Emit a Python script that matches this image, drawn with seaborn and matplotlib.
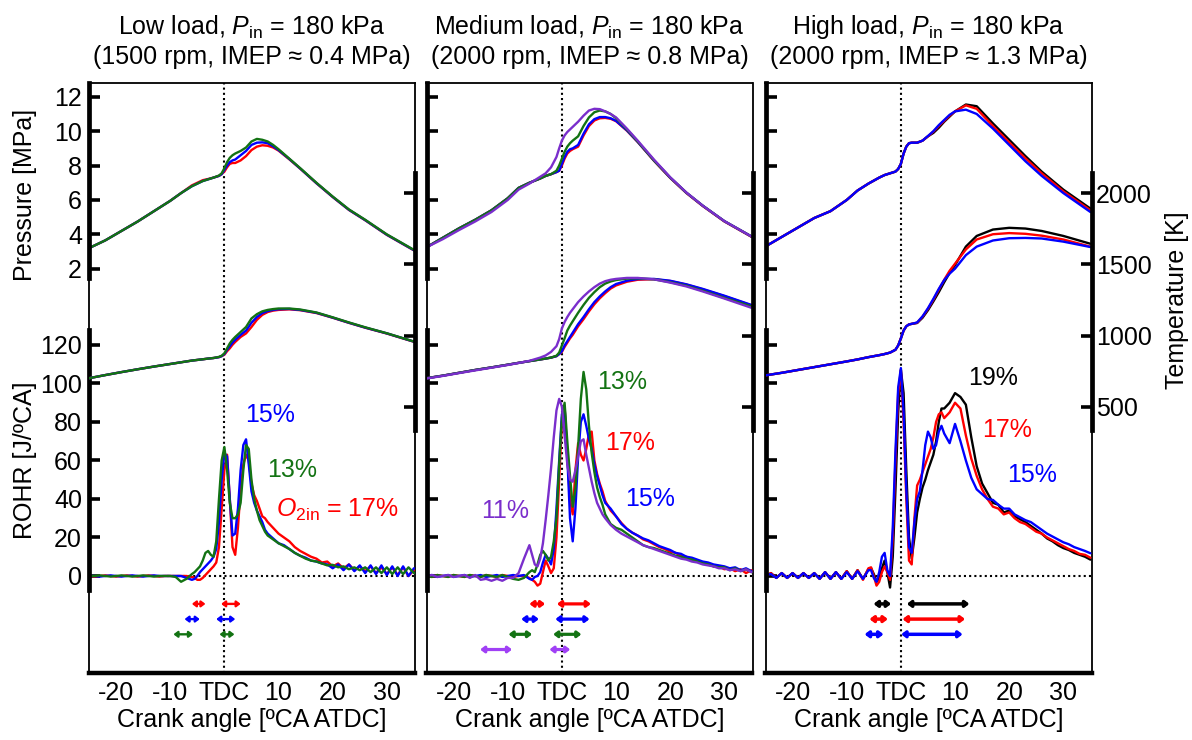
import matplotlib
matplotlib.use('Agg')
import matplotlib.pyplot as plt
import seaborn as sns

sns.set_style('white')
plt.rcParams['font.family'] = ['Liberation Sans', 'DejaVu Sans']
plt.rcParams['mathtext.fontset'] = 'custom'
plt.rcParams['mathtext.rm'] = 'Liberation Sans'
plt.rcParams['mathtext.it'] = 'Liberation Sans:italic'
plt.rcParams['mathtext.bf'] = 'Liberation Sans:bold'
for key in ['text.color', 'axes.labelcolor', 'xtick.color', 'ytick.color', 'axes.edgecolor']:
    plt.rcParams[key] = 'black'

FS = 18

# ---------------- x grids ----------------
ca_pt = [-25, -22, -19, -16, -13, -10, -8, -6, -4, -3, -2, -1, -0.5,
         0, 0.5, 1, 1.5, 2, 3, 4, 5, 6, 7, 8, 9, 10, 12, 14, 17, 20, 23, 26, 30, 35]
ca_rohr = list(range(-25, -5)) + [k * 0.5 for k in range(-11, 17)] + list(range(9, 36))

xtick_vals = [-20, -10, 0, 10, 20, 30]
xtick_labels = ['-20', '-10', 'TDC', '10', '20', '30']
p_ticks = [2, 4, 6, 8, 10, 12]
r_ticks = [0, 20, 40, 60, 80, 100, 120]
t_ticks = [500, 1000, 1500, 2000]

# ---------------- Panel 1: low load ----------------
p1_P_red = [3.2, 3.65, 4.2, 4.75, 5.35, 5.95, 6.4, 6.85, 7.15, 7.22, 7.3, 7.4, 7.5,
            7.65, 7.9, 8.1, 8.15, 8.15, 8.3, 8.55, 8.9, 9.1, 9.18, 9.15, 9.05, 8.87, 8.36, 7.82, 6.97, 6.17, 5.42, 4.82, 3.97, 3.07]
p1_P_blue = [3.2, 3.65, 4.2, 4.75, 5.35, 5.95, 6.4, 6.8, 7.1, 7.2, 7.3, 7.4, 7.5,
             7.75, 8.0, 8.2, 8.3, 8.35, 8.6, 8.85, 9.2, 9.33, 9.35, 9.3, 9.12, 8.9, 8.38, 7.83, 6.98, 6.18, 5.43, 4.83, 3.98, 3.08]
p1_P_green = [3.2, 3.65, 4.2, 4.75, 5.35, 5.95, 6.4, 6.8, 7.1, 7.2, 7.3, 7.42, 7.55,
              7.85, 8.2, 8.45, 8.6, 8.7, 8.85, 9.05, 9.4, 9.55, 9.5, 9.4, 9.2, 8.95, 8.4, 7.85, 7.0, 6.2, 5.45, 4.85, 4.0, 3.1]
p1_T_red = [700, 722, 743, 763, 782, 800, 812, 824, 833, 838, 842, 848, 855,
            865, 890, 910, 935, 955, 990, 1015, 1060, 1110, 1145, 1165, 1175, 1180, 1184, 1178, 1158, 1125, 1089, 1055, 1014, 956]
p1_T_blue = [700, 722, 743, 763, 782, 800, 812, 824, 833, 838, 842, 848, 855,
             870, 900, 925, 950, 970, 1005, 1035, 1090, 1130, 1158, 1172, 1180, 1185, 1187, 1180, 1160, 1126, 1090, 1056, 1015, 957]
p1_T_green = [700, 722, 743, 763, 782, 800, 812, 824, 833, 838, 842, 850, 858,
              875, 910, 945, 970, 990, 1025, 1060, 1120, 1150, 1170, 1180, 1186, 1190, 1190, 1183, 1162, 1128, 1092, 1058, 1016, 958]
p1_R_red = ([0, -0.3, 0, 0.3, 0, -0.3, 0, 0.3, 0, -0.3, 0, 0.3, 0, -0.3, 0, 0, 0, 0, 0, -0.5]
            + [-1, -2, -2, -1, 0.5, 2, 3.5, 5, 7, 15, 35, 55, 63, 40, 15, 11, 25, 45, 58, 63, 60, 48, 42, 39, 35, 31, 30, 28]
            + [25, 22, 20, 18, 15, 13, 11.5, 10, 9, 7, 7.5, 5, 6.5, 4, 6, 3, 5, 2.5, 5, 1.5, 4.5, 1, 4.5, 0.5, 4.5, 0, 3])
p1_R_blue = ([0, 0, -0.3, 0, 0.3, 0, -0.3, 0, 0.3, 0, -0.3, 0, 0.3, 0, 0, 0, 0, 0, -1, -2]
             + [-1.5, 0, 2, 3.5, 5, 6.5, 8, 10, 14, 28, 50, 64, 62, 40, 21, 22, 35, 55, 68, 71, 58, 44, 38, 34, 31, 28, 24, 22]
             + [19.5, 17, 16, 14, 12, 10.5, 9.5, 8, 7.5, 6.5, 6, 4, 6, 3, 6, 2.5, 5.5, 1.5, 5.5, 1, 5.5, 0.5, 5, 0, 5, 0, 4])
p1_R_green = ([0, 0, 0.3, 0, -0.3, 0, 0.3, 0, -0.3, 0, 0.3, 0, -0.3, 0, 0, 0, -0.5, -3, -1.5, 1]
              + [2, 3.5, 5, 8, 12, 13, 11, 10, 18, 40, 60, 67, 55, 38, 30, 30, 32, 38, 55, 68, 66, 50, 40, 34, 29, 26, 23, 21]
              + [19, 17, 15.5, 14, 12, 10.5, 9, 8, 7.5, 6.5, 5.5, 5.8, 4.5, 5, 3.5, 4.5, 3, 4.5, 2, 4.5, 1.5, 4.5, 1, 4.5, 1, 4.5, 1.5])
p1_arr_red = [(-6.0, -3.5), (-0.6, 3.0)]
p1_arr_blue = [(-7.35, -4.55), (-1.5, 2.0)]
p1_arr_green = [(-9.4, -5.8), (-0.9, 1.85)]

# ---------------- Panel 2: medium load ----------------
p2_P_red = [3.25, 3.8, 4.35, 4.85, 5.4, 6.1, 6.7, 7.0, 7.25, 7.4, 7.5, 7.62, 7.7,
            8.0, 8.4, 8.7, 8.85, 8.95, 9.1, 9.75, 10.3, 10.62, 10.75, 10.77, 10.72, 10.58, 10.03, 9.37, 8.28, 7.28, 6.4, 5.65, 4.75, 3.86]
p2_P_blue = [3.25, 3.8, 4.35, 4.85, 5.4, 6.1, 6.7, 7.0, 7.25, 7.4, 7.5, 7.62, 7.7,
             8.1, 8.5, 8.8, 8.95, 9.0, 9.2, 9.85, 10.4, 10.7, 10.82, 10.82, 10.75, 10.6, 10.05, 9.38, 8.3, 7.3, 6.42, 5.67, 4.77, 3.88]
p2_P_green = [3.25, 3.8, 4.35, 4.85, 5.4, 6.1, 6.7, 7.0, 7.25, 7.4, 7.5, 7.7, 8.0,
              8.4, 8.8, 9.1, 9.3, 9.45, 9.7, 10.3, 10.8, 11.1, 11.2, 11.15, 11.0, 10.75, 10.1, 9.4, 8.3, 7.3, 6.42, 5.67, 4.77, 3.88]
p2_P_purple = [3.25, 3.72, 4.25, 4.75, 5.3, 6.0, 6.6, 6.95, 7.35, 7.55, 7.9, 8.5, 9.0,
               9.45, 9.75, 9.95, 10.1, 10.25, 10.55, 10.9, 11.2, 11.3, 11.28, 11.15, 11.0, 10.8, 10.15, 9.45, 8.35, 7.32, 6.43, 5.67, 4.77, 3.88]
p2_T_red = [700, 718, 738, 758, 776, 795, 808, 820, 832, 838, 845, 855, 870,
            885, 920, 950, 980, 1005, 1065, 1115, 1170, 1220, 1262, 1298, 1330, 1352, 1378, 1392, 1396, 1383, 1358, 1325, 1277, 1212]
p2_T_blue = [700, 718, 738, 758, 776, 795, 808, 820, 832, 838, 845, 855, 870,
             890, 930, 960, 990, 1020, 1080, 1130, 1185, 1235, 1275, 1310, 1340, 1362, 1385, 1397, 1398, 1385, 1360, 1328, 1280, 1215]
p2_T_green = [700, 718, 738, 758, 776, 795, 808, 820, 832, 838, 845, 858, 880,
              930, 980, 1035, 1070, 1100, 1160, 1215, 1265, 1305, 1340, 1365, 1380, 1390, 1400, 1402, 1395, 1375, 1350, 1315, 1265, 1205]
p2_T_purple = [698, 716, 736, 755, 774, 793, 807, 822, 845, 860, 885, 925, 975,
               1050, 1095, 1130, 1160, 1185, 1235, 1275, 1310, 1340, 1365, 1382, 1392, 1398, 1405, 1405, 1395, 1372, 1345, 1310, 1260, 1195]
p2_R_red = ([0, -0.5, 0.5, 0, -0.5, 0.5, 0, -0.5, 0.5, 0, -0.5, 0.5, 0, -0.5, 0.5, 0, -0.5, 0, 0, -1]
            + [-2, -3, -5, -4, 2, 8, 5, 1.5, 4, 20, 50, 80, 88, 62, 40, 32, 55, 69, 63, 60, 66, 74, 75, 60, 53, 48, 44, 39]
            + [34, 31, 27.5, 24.5, 22.5, 21, 19, 18, 16.5, 15, 14, 12.5, 12, 10.5, 10, 8.5, 8, 6.5, 6.5, 5, 5, 3.5, 4, 2.5, 3.5, 1.5, 3])
p2_R_blue = ([0, 0.5, -0.5, 0, 0.5, -0.5, 0, 0.5, -0.5, 0, 0.5, -0.5, 0, 0.5, -0.5, 0, 0.5, 0, 0.5, -1.5]
             + [-2, -0.5, 0, 2, 7, 11, 9, 6, 14, 35, 60, 84, 88, 62, 30, 18, 35, 62, 80, 84, 78, 71, 66, 58, 52, 47, 42, 38]
             + [35, 31, 27, 24.5, 22.5, 21, 19.5, 18.5, 17, 15.5, 14.5, 13.5, 12, 11.5, 10, 9.5, 8.5, 7.5, 7, 6, 5.5, 5, 4, 4.5, 3, 4, 2.5])
p2_R_green = ([0, -0.5, 0.5, 0, -0.5, 0.5, 0, -0.5, 0.5, 0, -0.5, 0.5, 0, -0.5, 0.5, -0.5, -1.5, -2, -1, 2]
              + [3, 2, 6, 11, 13, 11, 8, 10, 18, 30, 58, 82, 90, 70, 52, 36, 45, 67, 92, 106, 97, 78, 64, 54, 46, 41, 37, 32]
              + [27, 25, 24, 22, 20, 18, 16, 15, 14.5, 13.5, 12.5, 11.5, 10.5, 10, 9, 8.5, 7.5, 6.5, 6, 5, 4.5, 4.5, 3, 4, 2.5, 3.5, 2])
p2_R_purple = ([0, 0.5, -0.5, 0, 0.5, -0.5, 0, 0.5, -1, 0.5, -2, -1.5, -2.5, -1.5, -2.5, -1, -1, 1.5, 9, 16]
               + [11, 6, 5, 9, 17, 29, 42, 56, 72, 86, 92, 88, 73, 58, 50, 49, 55, 62, 70, 71, 63, 56, 49, 43, 38, 35, 32, 30]
               + [26.5, 24, 22, 20.5, 19, 17.5, 16, 15, 14, 13, 12, 11, 10, 9, 8.5, 7.5, 7, 6, 5.5, 5, 4, 4, 3, 3.5, 2.5, 3.5, 2])
p2_arr_red = [(-6.0, -3.1), (-0.9, 5.35)]
p2_arr_blue = [(-7.5, -4.25), (-1.2, 5.1)]
p2_arr_green = [(-9.85, -5.5), (-1.6, 3.6)]
p2_arr_purple = [(-15.1, -9.2), (-2.3, 1.55)]

# ---------------- Panel 3: high load ----------------
p3_P_black = [3.3, 3.85, 4.4, 4.95, 5.35, 6.0, 6.55, 6.95, 7.3, 7.45, 7.55, 7.65, 7.8,
              8.1, 8.7, 9.1, 9.3, 9.33, 9.33, 9.45, 9.7, 9.9, 10.2, 10.55, 10.85, 11.15, 11.55, 11.45, 10.45, 9.5, 8.55, 7.65, 6.6, 5.5]
p3_P_red = [3.3, 3.85, 4.4, 4.95, 5.35, 6.0, 6.55, 6.95, 7.3, 7.45, 7.55, 7.65, 7.8,
            8.1, 8.7, 9.1, 9.3, 9.33, 9.33, 9.45, 9.7, 9.97, 10.3, 10.6, 10.9, 11.15, 11.5, 11.3, 10.3, 9.35, 8.42, 7.55, 6.5, 5.4]
p3_P_blue = [3.3, 3.85, 4.4, 4.95, 5.35, 6.0, 6.55, 6.95, 7.3, 7.45, 7.55, 7.65, 7.8,
             8.1, 8.7, 9.1, 9.3, 9.33, 9.33, 9.45, 9.72, 10.0, 10.35, 10.65, 10.95, 11.15, 11.25, 11.0, 10.15, 9.2, 8.25, 7.4, 6.4, 5.3]
p3_T_black = [720, 738, 758, 778, 798, 818, 832, 848, 862, 870, 880, 900, 930,
              980, 1035, 1065, 1078, 1082, 1088, 1125, 1178, 1240, 1305, 1375, 1440, 1495, 1625, 1700, 1745, 1757, 1752, 1735, 1700, 1645]
p3_T_red = [720, 738, 758, 778, 798, 818, 832, 848, 862, 870, 880, 900, 930,
            980, 1035, 1065, 1078, 1082, 1090, 1132, 1188, 1252, 1322, 1392, 1455, 1505, 1605, 1675, 1712, 1720, 1715, 1702, 1675, 1625]
p3_T_blue = [720, 738, 758, 778, 798, 818, 832, 848, 862, 870, 880, 900, 930,
             980, 1035, 1065, 1078, 1082, 1092, 1135, 1192, 1258, 1328, 1390, 1435, 1470, 1565, 1625, 1668, 1684, 1686, 1682, 1660, 1622]
p3_R_black = ([0, 1.5, -1, 1.5, -1, 1.5, -1, 1.5, -1, 1.5, -1.5, 2, -1.5, 2, -1.5, 2.5, -1.5, 3, -1.5, 3.5]
              + [4, 1, -3, -1, 4, 8, 2, -6, 10, 45, 85, 107, 95, 55, 20, 9, 20, 33, 40, 46, 50, 55, 59, 63, 70, 80, 87, 87]
              + [90, 95, 93, 89, 72, 57, 48, 43, 38, 37, 33, 34, 31, 29.5, 28, 26, 24, 22, 19.5, 18, 16, 14.5, 13.5, 12, 11, 10, 8.5])
p3_R_red = ([0, 1.5, -1, 1.5, -1, 1.5, -1, 1.5, -1, 1.5, -1.5, 2, -1.5, 2, -1.5, 2.5, -1.5, 3, -2, 4]
            + [4.5, 0, -5, -3, 2, 5, 2, -2, 20, 60, 95, 107, 80, 40, 8, 6, 30, 47, 50, 54, 58, 62, 66, 72, 80, 84, 85, 82]
            + [85, 90, 87, 73, 61, 52, 45, 40, 36, 35, 32, 33, 30, 28, 27, 25, 23, 22, 20, 18.5, 17, 15.5, 14, 13, 11.5, 11, 9.5])
p3_R_blue = ([0.5, 1, -1, 1.5, -1, 1.5, -1, 1.5, -1, 1.5, -1.5, 2, -1.5, 2, -1.5, 2, -1.5, 2.5, -1.5, 3]
             + [3, -1, -3, 2, 10, 12, 3, 0, 25, 65, 98, 108, 85, 45, 15, 12, 28, 40, 44, 55, 68, 75, 72, 66, 68, 75, 78, 74]
             + [69, 79, 70, 60, 51, 45, 42.5, 40, 39.5, 37, 35, 35, 32, 30.5, 29, 28, 26, 24, 22, 20.5, 19, 17.5, 16.5, 15, 14, 13, 11.8])
p3_arr_black = [(-5.05, -1.8), (1.1, 12.65)]
p3_arr_red = [(-5.8, -2.4), (0.3, 11.85)]
p3_arr_blue = [(-6.7, -3.2), (0.05, 11.4)]

# ---------------- styles ----------------
RED = '#FF0000'
BLUE = '#0000FF'
GREEN = '#137313'
PURPLE = '#7A2ECC'
PURPLE_ARR = '#A040F5'
BLACK = '#000000'

panels = [
    dict(t1=r'Low load, $P_{\mathrm{in}}$ = 180 kPa', t2='(1500 rpm, IMEP \u2248 0.4 MPa)',
         series=[(RED, p1_P_red, p1_T_red, p1_R_red),
                 (BLUE, p1_P_blue, p1_T_blue, p1_R_blue),
                 (GREEN, p1_P_green, p1_T_green, p1_R_green)],
         arrows=[(RED, p1_arr_red), (BLUE, p1_arr_blue), (GREEN, p1_arr_green)],
         arr_lw=1.7,
         labels=[('15%', BLUE, 8.5, 83.6), ('13%', GREEN, 12.5, 55),
                 (r'$\mathit{O}_{\mathrm{2in}}$ = 17%', RED, 20.9, 34.3)]),
    dict(t1=r'Medium load, $P_{\mathrm{in}}$ = 180 kPa', t2='(2000 rpm, IMEP \u2248 0.8 MPa)',
         series=[(RED, p2_P_red, p2_T_red, p2_R_red),
                 (BLUE, p2_P_blue, p2_T_blue, p2_R_blue),
                 (GREEN, p2_P_green, p2_T_green, p2_R_green),
                 (PURPLE, p2_P_purple, p2_T_purple, p2_R_purple)],
         arrows=[(RED, p2_arr_red), (BLUE, p2_arr_blue), (GREEN, p2_arr_green), (PURPLE_ARR, p2_arr_purple)],
         arr_lw=2.3,
         labels=[('13%', GREEN, 11.1, 101), ('17%', RED, 12.5, 69),
                 ('15%', BLUE, 16.2, 40), ('11%', PURPLE, -10.45, 33.9)]),
    dict(t1=r'High load, $P_{\mathrm{in}}$ = 180 kPa', t2='(2000 rpm, IMEP \u2248 1.3 MPa)',
         series=[(BLACK, p3_P_black, p3_T_black, p3_R_black),
                 (RED, p3_P_red, p3_T_red, p3_R_red),
                 (BLUE, p3_P_blue, p3_T_blue, p3_R_blue)],
         arrows=[(BLACK, p3_arr_black), (RED, p3_arr_red), (BLUE, p3_arr_blue)],
         arr_lw=2.5,
         labels=[('19%', BLACK, 17.0, 102.9), ('17%', RED, 19.6, 75.8), ('15%', BLUE, 24.2, 52.5)]),
]

W, H = 1192, 740
fig = plt.figure(figsize=(W / 100, H / 100), dpi=100)
lefts_px = [89, 426.5, 765.5]
width_px, top_px, bot_px = 326, 83, 673

for i, pan in enumerate(panels):
    rect = [lefts_px[i] / W, 1 - bot_px / H, width_px / W, (bot_px - top_px) / H]
    axf = fig.add_axes(rect)
    axf.set_xlim(-25, 35.2)
    axf.set_ylim(0, 1)
    axf.set_yticks([])
    axf.set_xticks(xtick_vals)
    axf.set_xticklabels(xtick_labels)
    axf.tick_params(axis='x', direction='in', length=7, width=3, labelsize=FS, pad=6, top=False,
                    colors='black')
    for s in ['top', 'left', 'right']:
        axf.spines[s].set_linewidth(1.3)
        axf.spines[s].set_color('k')
    axf.spines['bottom'].set_linewidth(3.2)
    axf.spines['bottom'].set_color('k')
    axf.set_xlabel('Crank angle [\u00baCA ATDC]', fontsize=FS, labelpad=2, color='black')
    axf.axvline(0, color='k', ls=(0, (1, 1.5)), lw=1.5, zorder=1)
    axf.text(0.5, 1.095, pan['t1'], transform=axf.transAxes, ha='center', va='center',
             fontsize=FS, color='black')
    axf.text(0.5, 1.044, pan['t2'], transform=axf.transAxes, ha='center', va='center',
             fontsize=FS, color='black')

    def make_twin(side):
        a = axf.twinx()
        for s in ['top', 'bottom', 'left', 'right']:
            a.spines[s].set_visible(False)
        a.spines[side].set_visible(True)
        a.spines[side].set_linewidth(3.4)
        a.spines[side].set_color('k')
        if side == 'left':
            a.yaxis.tick_left()
            a.yaxis.set_label_position('left')
        else:
            a.yaxis.tick_right()
        a.tick_params(axis='y', direction='in', length=8, width=2.6, labelsize=FS, pad=5,
                      colors='black')
        return a

    axr = make_twin('left')
    axp = make_twin('left')
    axt = make_twin('right')

    for color, P, T, R in pan['series']:
        sns.lineplot(x=ca_pt, y=P, ax=axp, color=color, linewidth=1.7, errorbar=None, legend=False)
        sns.lineplot(x=ca_pt, y=T, ax=axt, color=color, linewidth=1.7, errorbar=None, legend=False)
        sns.lineplot(x=ca_rohr, y=R, ax=axr, color=color, linewidth=1.7, errorbar=None, legend=False)

    axr.axhline(0, color='k', ls=(0, (1, 1.5)), lw=1.5, zorder=1)

    for row, (color, segs) in enumerate(pan['arrows']):
        yrow = -14.5 - 7.9 * row
        for x0, x1 in segs:
            axr.annotate('', xy=(x1, yrow), xytext=(x0, yrow), xycoords='data', textcoords='data',
                         arrowprops=dict(arrowstyle='<|-|>,head_length=0.22,head_width=0.17',
                                         color=color, lw=pan['arr_lw'], shrinkA=0, shrinkB=0,
                                         mutation_scale=10))

    for txt, color, x, y in pan['labels']:
        axr.text(x, y, txt, color=color, fontsize=FS, ha='center', va='center')

    axr.set_ylim(-50.4, 256.1)
    axr.spines['left'].set_bounds(-7.3, 127.8)
    axr.set_yticks(r_ticks)
    axp.set_ylim(-21.5, 12.8)
    axp.spines['left'].set_bounds(1.46, 12.8)
    axp.set_yticks(p_ticks)
    axt.set_ylim(-1372, 2775)
    axt.spines['right'].set_bounds(336, 2142)
    axt.set_yticks(t_ticks)
    for a in (axr, axp, axt):
        a.set_xlim(-25, 35.2)
        a.set_xlabel('')
        a.set_ylabel('')

    if i == 0:
        axp.set_ylabel('Pressure [MPa]', fontsize=FS, color='black')
        axp.yaxis.set_label_coords(-0.196, 0.81)
        axp.yaxis.label.set_verticalalignment('center')
        axr.set_ylabel('ROHR [J/\u00baCA]', fontsize=FS, color='black')
        axr.yaxis.set_label_coords(-0.196, 0.361)
        axr.yaxis.label.set_verticalalignment('center')
    else:
        axp.tick_params(axis='y', labelleft=False)
        axr.tick_params(axis='y', labelleft=False)
    if i == 2:
        axt.set_ylabel('Temperature [K]', fontsize=FS, rotation=90, color='black')
        axt.yaxis.set_label_position('right')
        axt.yaxis.set_label_coords(1.262, 0.632)
        axt.yaxis.label.set_verticalalignment('center')
        axt.tick_params(axis='y', labelright=True, pad=3)
    else:
        axt.tick_params(axis='y', labelright=False)

fig.savefig('out.png', dpi=100)
